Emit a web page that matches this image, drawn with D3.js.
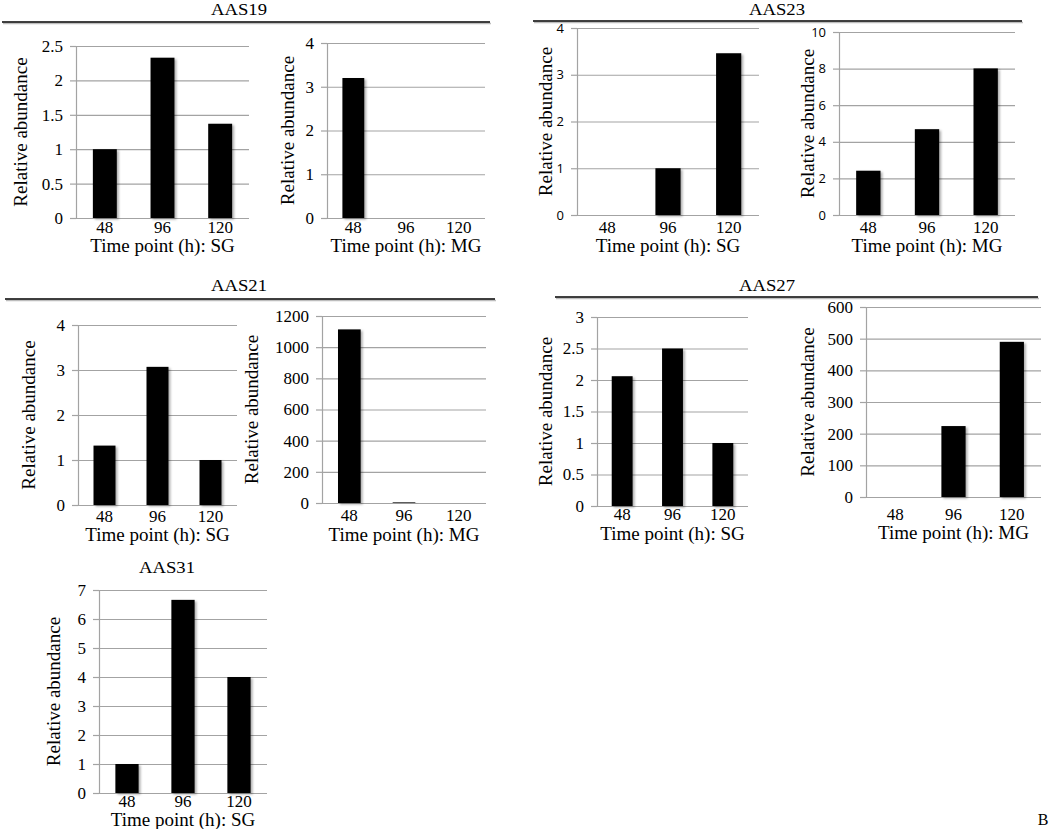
<!DOCTYPE html>
<html>
<head>
<meta charset="utf-8">
<script src="https://cdn.jsdelivr.net/npm/d3@7"></script>
<style>
  body { margin: 0; background: #fff; }
  svg { display: block; }
</style>
</head>
<body>
<div id="chart"></div>
<script>
// time points shared by every panel
const timePoints = ['48', '96', '120']

// relative abundance per gene and tissue (SG = salivary gland, MG = midgut)
const aas19SG = [1, 2.33, 1.37]
const aas19MG = [3.2, 0, 0]
const aas23SG = [0, 1, 3.46]
const aas23MG = [2.42, 4.69, 8.01]
const aas21SG = [1.32, 3.07, 1]
const aas21MG = [1114, 4, 0]
const aas27SG = [2.06, 2.5, 1]
const aas27MG = [0, 224, 490]
const aas31SG = [1, 6.66, 4]

// y tick values of each panel
const ticks19SG = [0, 0.5, 1, 1.5, 2, 2.5]
const ticks19MG = [0, 1, 2, 3, 4]
const ticks23SG = [0, 1, 2, 3, 4]
const ticks23MG = [0, 2, 4, 6, 8, 10]
const ticks21SG = [0, 1, 2, 3, 4]
const ticks21MG = [0, 200, 400, 600, 800, 1000, 1200]
const ticks27SG = [0, 0.5, 1, 1.5, 2, 2.5, 3]
const ticks27MG = [0, 100, 200, 300, 400, 500, 600]
const ticks31SG = [0, 1, 2, 3, 4, 5, 6, 7]

const groupNames = ['AAS19', 'AAS23', 'AAS21', 'AAS27', 'AAS31']

const SERIF = '"Liberation Serif", "Times New Roman", serif'
const SANS = '"Open Sans", "Liberation Sans", sans-serif'

// layout: where each plot sits on the page
const panels = [
    { data: aas19SG, ticks: ticks19SG, tissue: 'SG', left: 76, right: 249, top: 46, bottom: 218, labX: 20, tickY: 233, titleY: 252 },
    { data: aas19MG, ticks: ticks19MG, tissue: 'MG', left: 327, right: 485, top: 43, bottom: 218, labX: 287, tickY: 233, titleY: 252 },
    { data: aas23SG, ticks: ticks23SG, tissue: 'SG', left: 577, right: 759, top: 28, bottom: 215, labX: 545, tickY: 233, titleY: 252, sans: true },
    { data: aas23MG, ticks: ticks23MG, tissue: 'MG', left: 839, right: 1015, top: 32, bottom: 215, labX: 807, tickY: 233, titleY: 252, sans: true },
    { data: aas21SG, ticks: ticks21SG, tissue: 'SG', left: 78, right: 237, top: 325, bottom: 505, labX: 28, tickY: 522, titleY: 541 },
    { data: aas21MG, ticks: ticks21MG, tissue: 'MG', left: 322, right: 486, top: 316, bottom: 503, labX: 251, tickY: 521, titleY: 541 },
    { data: aas27SG, ticks: ticks27SG, tissue: 'SG', left: 597, right: 748, top: 317, bottom: 506, labX: 545, tickY: 520, titleY: 540 },
    { data: aas27MG, ticks: ticks27MG, tissue: 'MG', left: 866, right: 1041, top: 307, bottom: 497, labX: 807, tickY: 520, titleY: 539 },
    { data: aas31SG, ticks: ticks31SG, tissue: 'SG', left: 99, right: 267, top: 590, bottom: 793, labX: 53, tickY: 807, titleY: 826 },
]

// group headers (title + rule underneath)
const headers = [
    { x: 239, y: 15, line: [2, 490, 22] },
    { x: 777, y: 15, line: [533, 1022, 21] },
    { x: 239, y: 291, line: [5, 495, 299] },
    { x: 767, y: 291, line: [555, 1038, 297] },
    { x: 167, y: 573, line: null },
]

const svg = d3.select('#chart')
    .append('svg')
    .attr('width', 1050)
    .attr('height', 829)
    .style('font-family', SERIF)

svg.append('rect').attr('width', 1050).attr('height', 829).attr('fill', '#fff')

// light drop shadow like the Excel bars
const defs = svg.append('defs')
defs.append('filter')
    .attr('id', 'shadow')
    .attr('x', '-30%').attr('y', '-10%').attr('width', '160%').attr('height', '130%')
    .append('feDropShadow')
    .attr('dx', 2).attr('dy', 1.5).attr('stdDeviation', 1.2)
    .attr('flood-color', '#000').attr('flood-opacity', 0.3)

headers.forEach((h, i) => {
    svg.append('text')
        .attr('x', h.x)
        .attr('y', h.y)
        .attr('text-anchor', 'middle')
        .style('font-family', SERIF)
        .style('font-size', '17px')
        .attr('textLength', 56)
        .attr('lengthAdjust', 'spacingAndGlyphs')
        .text(groupNames[i])
    if (h.line) {
        // soft shadow under the rule, then the rule itself
        svg.append('line')
            .attr('x1', h.line[0] + 1).attr('x2', h.line[1] + 1)
            .attr('y1', h.line[2] + 1.5).attr('y2', h.line[2] + 1.5)
            .attr('stroke', '#bdbdbd')
            .attr('stroke-width', 1.5)
        svg.append('line')
            .attr('x1', h.line[0]).attr('x2', h.line[1])
            .attr('y1', h.line[2]).attr('y2', h.line[2])
            .attr('stroke', '#000')
            .attr('stroke-width', 1.6)
    }
})

panels.forEach((p) => {
    const g = svg.append('g')
    const yMax = p.ticks[p.ticks.length - 1]

    const x = d3.scaleBand()
        .domain(timePoints)
        .range([p.left, p.right])

    const y = d3.scaleLinear()
        .domain([0, yMax])
        .range([p.bottom, p.top])

    // gridlines
    g.append('g')
        .attr('transform', `translate(${p.left},0)`)
        .call(d3.axisLeft(y).tickValues(p.ticks).tickSize(-(p.right - p.left)).tickFormat(''))
        .call((a) => a.select('.domain').remove())
        .selectAll('line')
        .attr('stroke', '#a3a3a3')
        .attr('stroke-width', 1.2)

    // y axis with outward ticks
    const yAxis = g.append('g')
        .attr('transform', `translate(${p.left},0)`)
        .call(d3.axisLeft(y).tickValues(p.ticks).tickSize(6).tickSizeOuter(0).tickPadding(7).tickFormat((d) => String(d)))
    yAxis.attr('font-family', null).attr('font-size', null)
    yAxis.select('.domain').attr('stroke', '#a3a3a3').attr('stroke-width', 1.2)
    yAxis.selectAll('.tick line').attr('stroke', '#a3a3a3').attr('stroke-width', 1.2)
    yAxis.selectAll('text')
        .attr('fill', '#000')
        .style('font-family', p.sans ? SANS : SERIF)
        .style('font-size', p.sans ? '13px' : '17px')

    // bars
    const barW = x.bandwidth() * 0.415
    g.selectAll('rect.bar')
        .data(p.data)
        .enter()
        .append('rect')
        .attr('class', 'bar')
        .attr('x', (d, i) => x(timePoints[i]) + x.bandwidth() / 2 - barW / 2)
        .attr('width', barW)
        .attr('y', (d) => y(d))
        .attr('height', (d) => y(0) - y(d))
        .attr('fill', '#000')
        .attr('filter', 'url(#shadow)')

    // x tick labels
    const xAxis = g.append('g')
        .attr('transform', `translate(0,${p.tickY})`)
        .call(d3.axisBottom(x).tickSize(0))
    xAxis.attr('font-family', null).attr('font-size', null)
    xAxis.select('.domain').remove()
    xAxis.selectAll('text')
        .attr('y', null)
        .attr('dy', null)
        .attr('fill', '#000')
        .style('font-family', SERIF)
        .style('font-size', '17px')

    // axis titles
    g.append('text')
        .attr('x', (p.left + p.right) / 2)
        .attr('y', p.titleY)
        .attr('text-anchor', 'middle')
        .style('font-family', SERIF)
        .style('font-size', '19px')
        .text('Time point (h): ' + p.tissue)

    g.append('text')
        .attr('transform', `translate(${p.labX},${(p.top + p.bottom) / 2}) rotate(-90)`)
        .attr('text-anchor', 'middle')
        .attr('dy', '0.35em')
        .style('font-family', SERIF)
        .style('font-size', '19px')
        .text('Relative abundance')
})

svg.append('text')
    .attr('x', 1043)
    .attr('y', 825)
    .attr('text-anchor', 'middle')
    .style('font-family', SERIF)
    .style('font-size', '16px')
    .text('B')
</script>
</body>
</html>
